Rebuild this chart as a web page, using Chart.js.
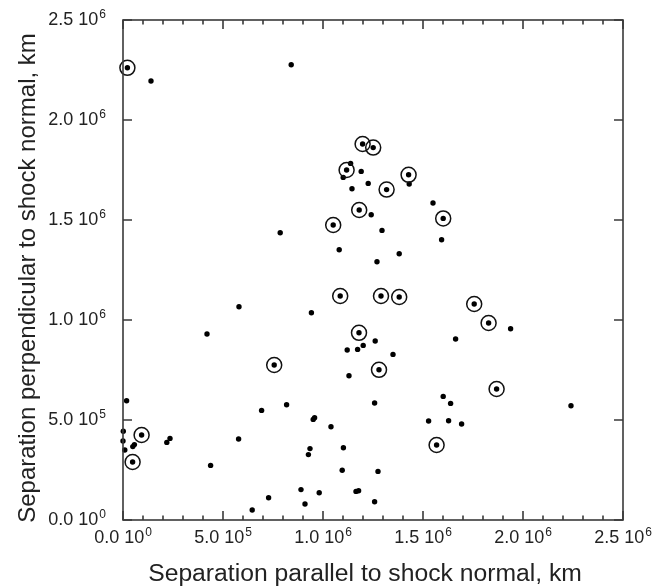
<!DOCTYPE html>
<html>
<head>
<meta charset="utf-8">
<script src="https://cdn.jsdelivr.net/npm/chart.js@4/dist/chart.umd.min.js"></script>
<style>
  html, body { margin: 0; padding: 0; background: #fff; }
  #wrap { width: 665px; height: 586px; }
</style>
</head>
<body>
<div id="wrap"><canvas id="sepChart" width="665" height="586"></canvas></div>
<script>
// separations in km
const ringX = [22000, 1198000, 1251000, 1118000, 1318000, 1428000, 1601000, 1181000, 1051000, 1086000,
  1290000, 1381000, 1756000, 1828000, 1180000, 1280000, 1868000, 1568000, 756000, 93000, 48000];
const ringY = [2261000, 1880000, 1862000, 1750000, 1652000, 1726000, 1508000, 1550000, 1475000, 1120000,
  1120000, 1115000, 1080000, 985000, 936000, 751000, 655000, 375000, 775000, 425000, 290000];

const dotX = [140000, 841000, 786000, 1138000, 1101000, 1191000, 1226000, 1145000, 1431000, 1550000,
  1593000, 1241000, 1295000, 1081000, 1381000, 1270000, 580000, 942000, 1938000, 420000,
  1261000, 1121000, 1173000, 1201000, 1663000, 1350000, 1130000, 1601000, 1638000, 1258000,
  2240000, 951000, 958000, 1528000, 1628000, 1693000, 1040000, 1102000, 935000, 927000,
  1096000, 1275000, 1165000, 1178000, 981000, 890000, 910000, 1258000, 728000, 646000,
  693000, 818000, 18000, 1500, 0, 9000, 49000, 57000, 219000, 235000, 578000, 438000];
const dotY = [2195000, 2276000, 1436000, 1783000, 1713000, 1743000, 1683000, 1656000, 1680000, 1585000,
  1401000, 1526000, 1448000, 1351000, 1331000, 1291000, 1066000, 1036000, 956000, 930000,
  895000, 850000, 853000, 873000, 905000, 828000, 721000, 618000, 583000, 585000,
  571000, 503000, 511000, 495000, 496000, 480000, 466000, 361000, 357000, 327000,
  249000, 243000, 143000, 146000, 136000, 152000, 80000, 91000, 111000, 50000,
  548000, 576000, 596000, 444000, 395000, 350000, 367000, 377000, 388000, 408000, 405000, 273000];

// tick labels, "mantissa 10^exp"
const tickValues = [0, 500000, 1000000, 1500000, 2000000, 2500000];
const tickBase = ['0.0 10', '5.0 10', '1.0 10', '1.5 10', '2.0 10', '2.5 10'];
const tickExp = ['0', '5', '6', '6', '6', '6'];

const xTitle = 'Separation parallel to shock normal, km';
const yTitle = 'Separation perpendicular to shock normal, km';

const FONT = '"Liberation Sans", Arial, Helvetica, sans-serif';

const rings = ringX.map((x, i) => ({ x: x, y: ringY[i] }));
const dots = dotX.map((x, i) => ({ x: x, y: dotY[i] })).concat(rings);

function tickLabel(ctx, base, exp, x, y, align) {
  ctx.font = '18px ' + FONT;
  const wb = ctx.measureText(base).width;
  ctx.font = '12px ' + FONT;
  const we = ctx.measureText(exp).width;
  const total = wb + 1 + we;
  const left = align === 'center' ? x - total / 2 : x - total;
  ctx.font = '18px ' + FONT;
  ctx.fillText(base, left, y);
  ctx.font = '12px ' + FONT;
  ctx.fillText(exp, left + wb + 1, y - 7);
}

// box frame with inward ticks, the 10^n labels and the axis titles
const frame = {
  id: 'frame',
  afterDraw(chart) {
    const ctx = chart.ctx;
    const a = chart.chartArea;
    const xs = chart.scales.x, ys = chart.scales.y;
    ctx.save();
    ctx.strokeStyle = '#3a3a3a';
    ctx.lineWidth = 1.6;
    ctx.strokeRect(a.left, a.top, a.right - a.left, a.bottom - a.top);
    ctx.beginPath();
    for (let k = 0; k <= 25; k++) {
      const px = xs.getPixelForValue(k * 100000);
      const len = k % 5 === 0 ? 9 : 4.5;
      ctx.moveTo(px, a.bottom); ctx.lineTo(px, a.bottom - len);
      ctx.moveTo(px, a.top); ctx.lineTo(px, a.top + len);
    }
    tickValues.forEach(v => {
      const py = ys.getPixelForValue(v);
      ctx.moveTo(a.left, py); ctx.lineTo(a.left + 9, py);
      ctx.moveTo(a.right, py); ctx.lineTo(a.right - 9, py);
    });
    ctx.stroke();

    ctx.fillStyle = '#222';
    ctx.textAlign = 'left';
    ctx.textBaseline = 'alphabetic';
    tickValues.forEach((v, i) => {
      tickLabel(ctx, tickBase[i], tickExp[i], xs.getPixelForValue(v), a.bottom + 23, 'center');
      tickLabel(ctx, tickBase[i], tickExp[i], a.left - 17, ys.getPixelForValue(v) + 5, 'right');
    });

    ctx.textAlign = 'center';
    ctx.font = '24.7px ' + FONT;
    ctx.fillText(xTitle, (a.left + a.right) / 2 - 8, a.bottom + 61);
    ctx.translate(a.left - 88, (a.top + a.bottom) / 2 + 8);
    ctx.rotate(-Math.PI / 2);
    ctx.font = '24px ' + FONT;
    ctx.fillText(yTitle, 0, 0);
    ctx.restore();
  }
};

new Chart(document.getElementById('sepChart').getContext('2d'), {
  type: 'scatter',
  data: {
    datasets: [
      {
        data: rings,
        pointStyle: 'circle',
        pointRadius: 7.5,
        pointBackgroundColor: 'rgba(0,0,0,0)',
        pointBorderColor: '#111',
        pointBorderWidth: 1.5,
        clip: false
      },
      {
        data: dots,
        pointRadius: 2.7,
        pointBackgroundColor: '#000',
        pointBorderWidth: 0,
        clip: false
      }
    ]
  },
  options: {
    responsive: false,
    animation: false,
    layout: { padding: { top: 20, right: 42, left: 0, bottom: 0 } },
    plugins: { legend: { display: false }, tooltip: { enabled: false } },
    scales: {
      x: {
        type: 'linear', min: 0, max: 2500000,
        ticks: { stepSize: 500000, display: false },
        grid: { display: false },
        border: { display: false },
        afterFit(s) { s.height = 66; }
      },
      y: {
        type: 'linear', min: 0, max: 2500000,
        ticks: { stepSize: 500000, display: false },
        grid: { display: false },
        border: { display: false },
        afterFit(s) { s.width = 123; }
      }
    }
  },
  plugins: [frame]
});
</script>
</body>
</html>
